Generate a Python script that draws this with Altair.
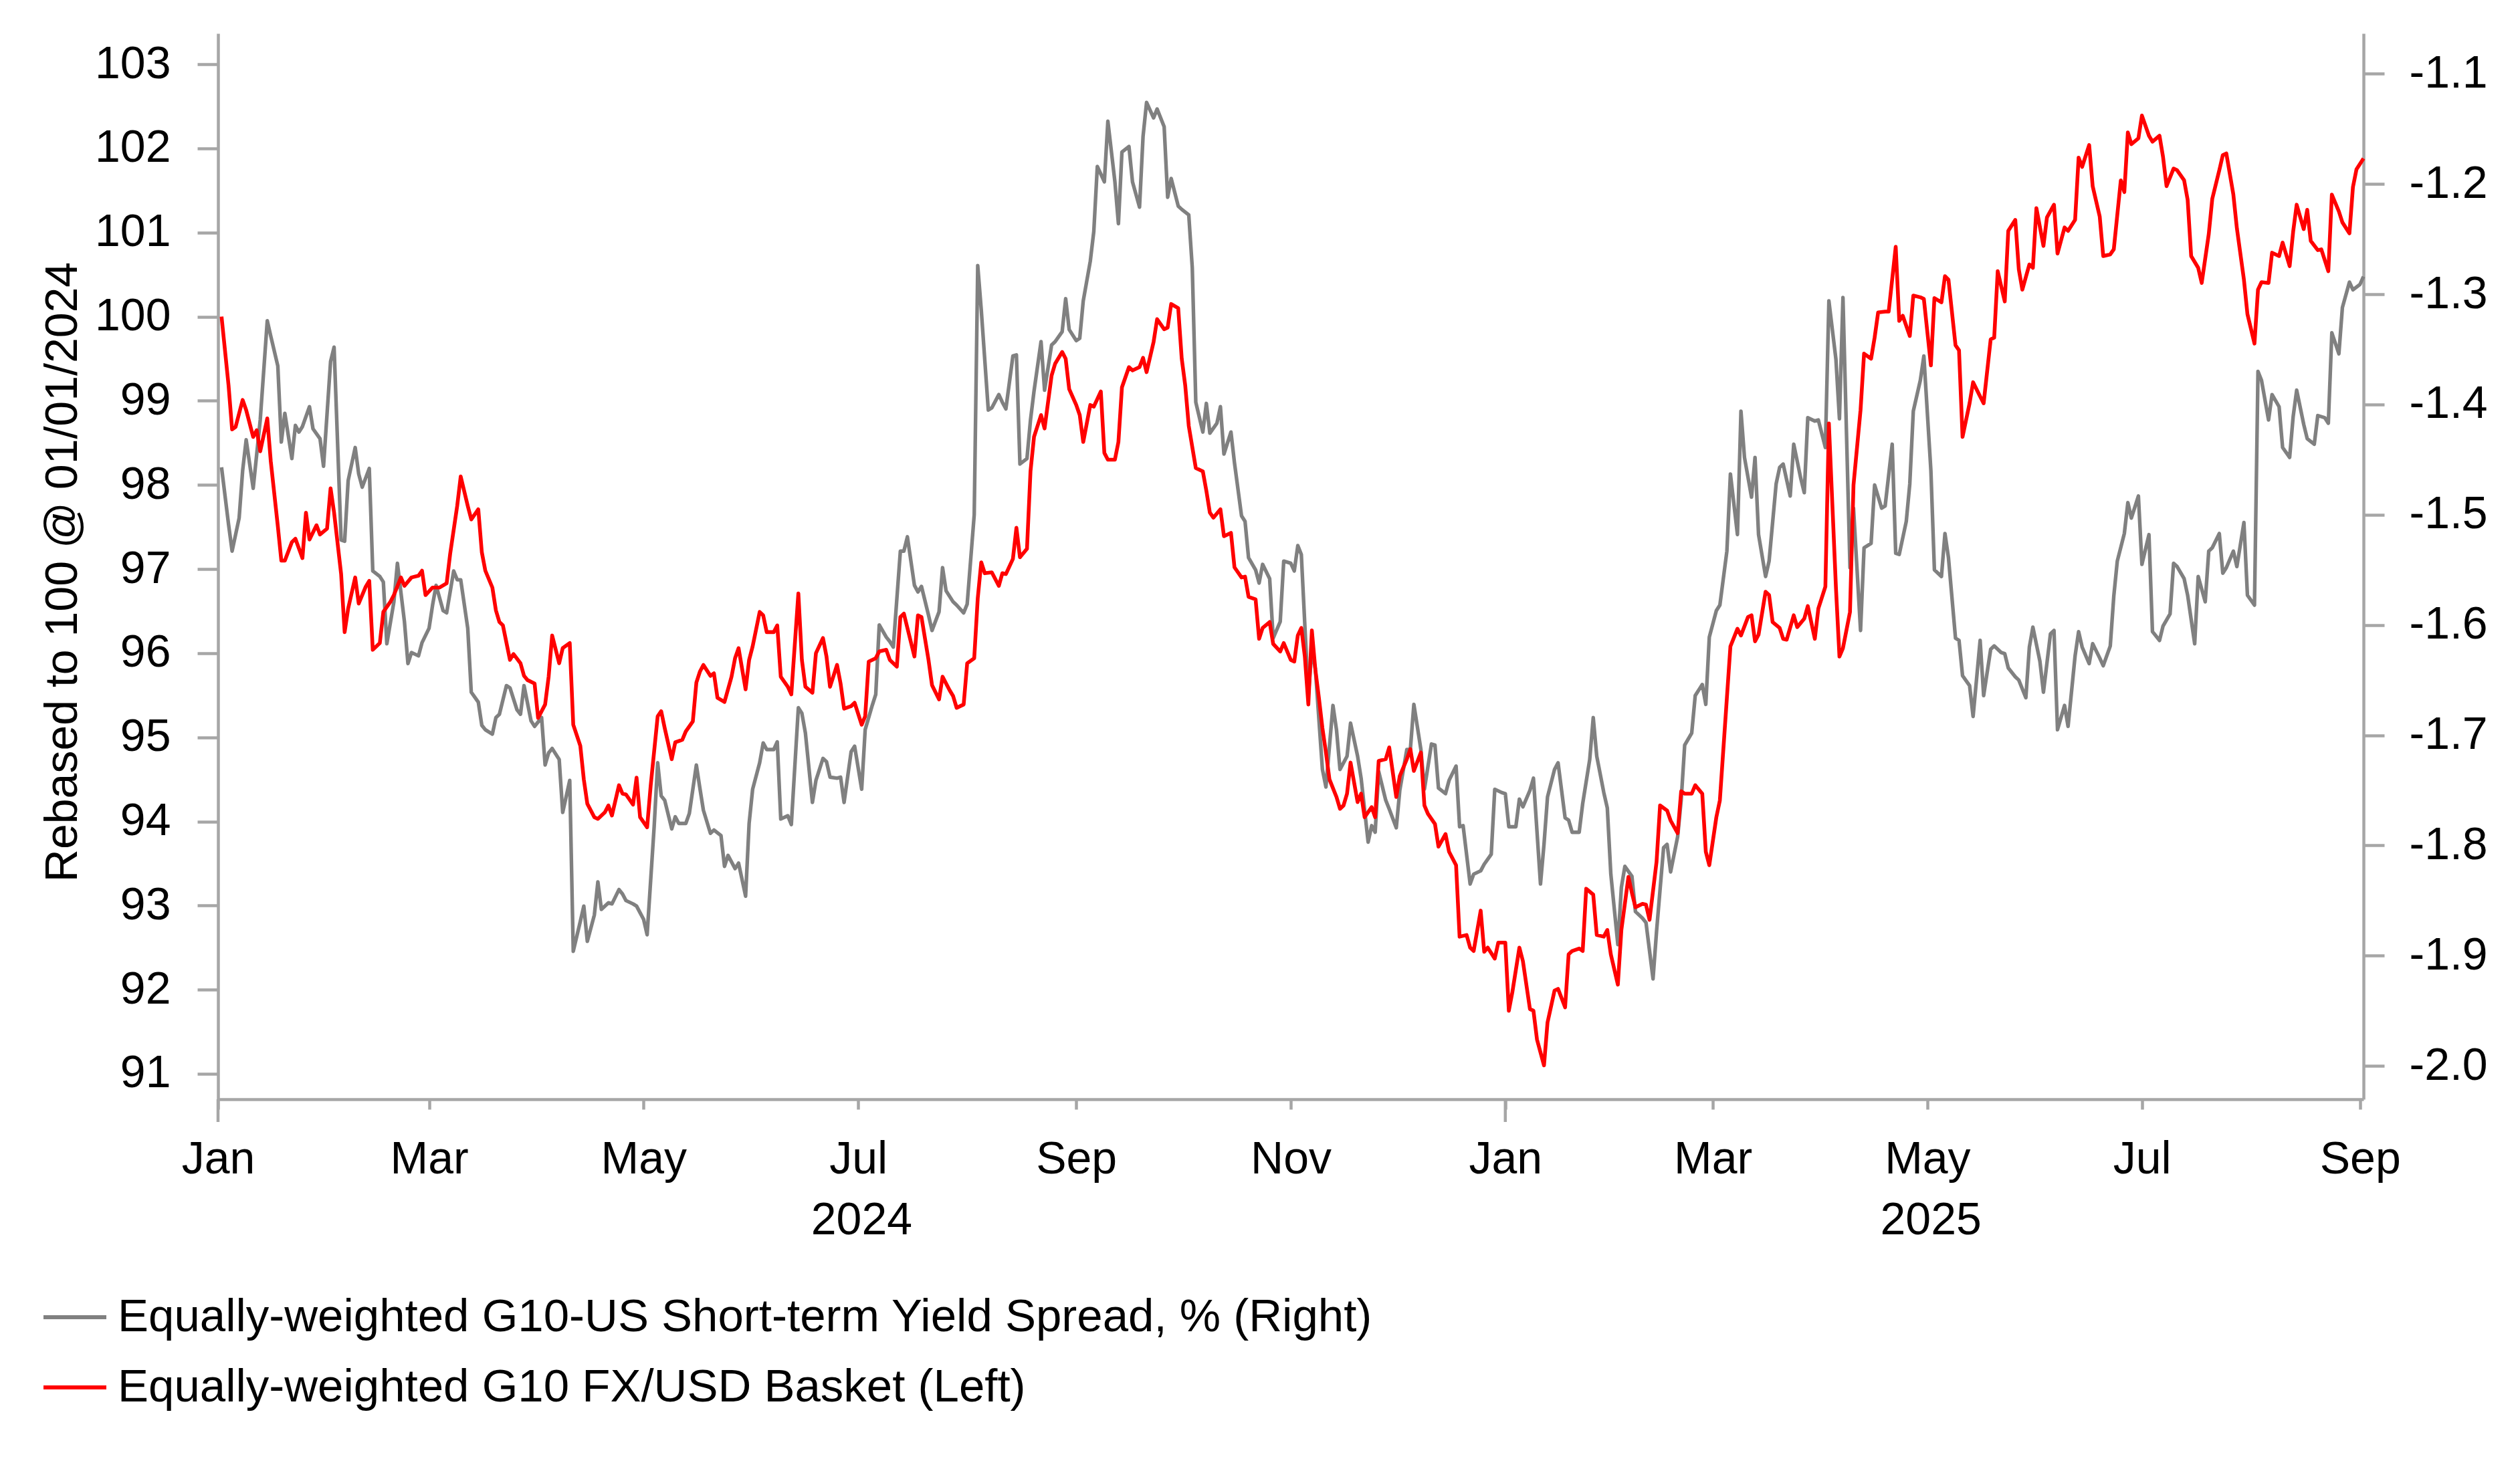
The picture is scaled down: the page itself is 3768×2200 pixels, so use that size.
import altair as alt
import pandas as pd

# ---------------- data (days since 2024-01-01) ----------------
red_day = [1, 3, 4, 5, 7, 8, 10, 11, 12, 14, 15, 17, 18, 19, 21, 22, 24, 25, 26, 28, 29, 31, 32, 33, 35, 36, 37, 39, 40, 42,
           43, 44, 46, 47, 49, 50, 52, 53, 55, 57, 58, 59, 61, 63, 65, 66, 68, 69, 71, 72, 74, 75, 76, 78, 79, 80, 81, 83, 84, 86,
           87, 88, 90, 91, 93, 94, 95, 97, 98, 100, 101, 103, 104, 105, 107, 108, 110, 111, 112, 114, 115, 116, 118, 119, 120, 122, 123, 125, 126, 127,
           129, 130, 132, 133, 135, 136, 137, 138, 140, 141, 142, 144, 146, 147, 148, 150, 151, 152, 154, 155, 156,
           158, 159, 160, 162, 163, 165, 166, 167, 169, 170, 172, 173, 174, 176, 177, 178, 180, 181, 183, 184, 185, 187, 188, 190,
           191, 193, 194, 195, 196, 198, 199, 200, 202, 203, 205, 206, 208, 209, 210, 212, 213, 215, 216, 217, 218, 220, 222, 223, 224,
           226, 227, 228, 230, 231, 232, 234, 235, 237, 238, 240, 241, 242, 244, 245, 246, 248, 249, 251, 252, 253, 255, 256, 257, 259,
           260, 262, 263, 264, 266, 267, 269, 270, 271, 273, 274, 275, 276, 278, 280, 281, 282, 283, 285, 286, 288, 289, 291, 292, 293,
           295, 296, 297, 299, 300, 302, 303, 305, 306, 307, 308,
           309, 310, 311, 312, 313, 314, 315, 316, 318, 319, 320, 321, 322, 324, 325, 326, 327, 328, 329, 330, 332, 333, 335, 336, 338,
           339, 340, 342, 343, 344, 346, 347, 349, 350, 352, 353, 355, 356, 357, 359, 360, 361, 363, 364, 366, 367, 368, 370, 371, 373,
           374, 375, 377, 378, 380, 381, 383, 384, 385, 387, 388, 389, 391, 392, 394, 395, 396, 398, 399, 401, 402, 403, 405, 406, 407,
           409, 410, 412, 413, 415, 416, 417, 419, 420, 422, 423, 424, 426, 427, 429, 430, 432, 433, 435, 436, 437, 438, 440, 441, 442,
           444, 445, 446, 448, 449, 451, 452, 454, 455, 457, 458,
           460, 461, 462, 464, 465, 467, 468, 470, 471, 472, 474, 475, 477, 478, 479, 481, 482, 484, 485, 487, 488, 490, 491, 492, 494,
           495, 496, 498, 499, 501, 502, 504, 505, 506, 508, 509, 511, 512, 513, 515, 516, 517, 519, 520, 522, 523, 525, 526, 528, 529,
           530, 532, 533, 535, 536, 538, 539, 541, 542, 543, 544, 546, 547, 549, 550, 552, 553, 554, 556, 557, 559, 560, 561, 563, 564,
           566, 567, 569, 570, 571, 573, 574, 576, 577, 579, 580, 581, 583, 584, 586, 587, 589, 590, 591, 593, 594, 595, 597, 598, 600,
           601, 603, 604, 606, 607, 608, 610]
red_val = [100.0, 99.18, 98.66, 98.69, 99.01, 98.89, 98.57, 98.65, 98.40, 98.79, 98.28, 97.51, 97.10, 97.10, 97.32, 97.36, 97.13, 97.67, 97.35, 97.52,
           97.41, 97.48, 97.96, 97.67, 96.94, 96.25, 96.53, 96.90, 96.59, 96.79, 96.86, 96.04, 96.12, 96.49, 96.61, 96.69, 96.90, 96.80, 96.90, 96.92,
           96.98, 96.69, 96.78, 96.78, 96.83, 97.18, 97.75, 98.10, 97.75, 97.59, 97.71, 97.20, 96.98, 96.78, 96.51, 96.37, 96.33, 95.92, 95.99, 95.88,
           95.73, 95.68, 95.64, 95.23, 95.39, 95.72, 96.21, 95.88, 96.06, 96.12, 95.15, 94.90, 94.50, 94.21, 94.05, 94.03, 94.11, 94.19, 94.07, 94.43,
           94.33, 94.32, 94.20, 94.52, 94.05, 93.93, 94.42, 95.25, 95.31, 95.11, 94.74, 94.94, 94.97, 95.07, 95.19, 95.65, 95.78, 95.86, 95.73, 95.76,
           95.47, 95.42, 95.72, 95.94, 96.06, 95.57, 95.92, 96.08, 96.49, 96.45, 96.25,
           96.25, 96.33, 95.72, 95.60, 95.51, 96.71, 95.92, 95.60, 95.53, 96.00, 96.18, 95.96, 95.60, 95.86, 95.64, 95.34, 95.37, 95.41, 95.15, 95.25,
           95.90, 95.94, 96.02, 96.04, 95.92, 95.84, 96.43, 96.47, 96.30, 95.96, 96.45, 96.43, 95.92, 95.62, 95.45, 95.72, 95.56, 95.49, 95.35, 95.39,
           95.88, 95.94, 96.65, 97.08, 96.95, 96.96, 96.80, 96.95, 96.94, 97.12, 97.49, 97.14, 97.24, 98.16, 98.57, 98.83, 98.67, 99.30, 99.44, 99.58,
           99.50, 99.14, 98.95, 98.83, 98.51, 98.95, 98.93, 99.11, 98.38, 98.30, 98.30, 98.51, 99.16, 99.40, 99.36, 99.40, 99.51, 99.34, 99.70, 99.97,
           99.85, 99.87, 100.15, 100.10, 99.50, 99.18, 98.70, 98.20, 98.16, 97.93, 97.67, 97.61, 97.71, 97.39, 97.43, 97.02, 96.90, 96.91, 96.67, 96.64,
           96.17, 96.30, 96.37, 96.11, 96.02, 96.12, 95.92, 95.90, 96.21, 96.30,
           95.96, 95.39, 96.27, 95.80, 95.47, 95.11, 94.82, 94.50, 94.29, 94.15, 94.19, 94.33, 94.70, 94.23, 94.33, 94.05, 94.11, 94.17, 94.05, 94.72,
           94.74, 94.88, 94.29, 94.54, 94.74, 94.86, 94.60, 94.82, 94.19, 94.09, 93.97, 93.70, 93.85, 93.64, 93.48, 92.63, 92.65, 92.50, 92.46, 92.94,
           92.45, 92.50, 92.37, 92.56, 92.56, 91.75, 91.97, 92.50, 92.34, 91.77, 91.75, 91.41, 91.10, 91.61, 91.99, 92.01, 91.79, 92.42, 92.46, 92.49,
           92.46, 93.20, 93.13, 92.65, 92.63, 92.71, 92.42, 92.06, 92.71, 93.34, 93.15, 92.98, 93.02, 93.01, 92.83, 93.52, 94.19, 94.13, 94.01, 93.86,
           94.36, 94.33, 94.33, 94.43, 94.33, 93.64, 93.48, 94.05, 94.25, 95.47, 96.08, 96.29, 96.21, 96.43, 96.45, 96.14, 96.22, 96.73, 96.69, 96.37,
           96.30, 96.17, 96.16, 96.45, 96.31, 96.41, 96.56, 96.17, 96.53, 96.79, 98.73,
           96.78, 95.96, 96.06, 96.49, 98.00, 98.89, 99.56, 99.50, 99.75, 100.05, 100.06, 100.06, 100.83, 99.95, 100.01, 99.77, 100.25, 100.23, 100.21, 99.42,
           100.22, 100.17, 100.48, 100.44, 99.66, 99.60, 98.57, 98.97, 99.22, 99.05, 98.97, 99.73, 99.75, 100.54, 100.18, 101.02, 101.15, 100.56, 100.32, 100.62,
           100.58, 101.29, 100.84, 101.18, 101.33, 100.75, 101.06, 101.02, 101.15, 101.89, 101.78, 102.04, 101.55, 101.19, 100.72, 100.74, 100.80, 101.62, 101.48, 102.19,
           102.05, 102.12, 102.39, 102.15, 102.08, 102.15, 101.90, 101.55, 101.76, 101.74, 101.62, 101.39, 100.72, 100.58, 100.40, 100.98, 101.40, 101.74, 101.92, 101.94,
           101.45, 101.05, 100.44, 100.03, 99.68, 100.32, 100.41, 100.40, 100.76, 100.72, 100.88, 100.60, 101.01, 101.33, 101.04, 101.27, 100.90, 100.79, 100.80, 100.54,
           101.45, 101.25, 101.12, 100.99, 101.54, 101.75, 101.88]

gray_day = [1, 3, 4, 6, 7, 8, 10, 11, 12, 14, 15, 17, 18, 19, 21, 22, 23, 24, 26, 27, 29, 30, 32, 33, 35, 36, 37, 39, 40, 41,
            43, 44, 46, 47, 48, 50, 51, 53, 54, 55, 57, 58, 60, 61, 62, 64, 65, 67, 68, 69, 71, 72, 74, 75, 76, 78, 79, 80, 82, 83,
            85, 86, 87, 89, 90, 91, 92, 93, 94, 95, 97, 98, 100, 101, 103, 104, 105, 107, 108, 109, 111, 112, 114, 115, 116, 118, 119, 121, 122, 124,
            125, 126, 127, 129, 130, 131, 133, 134, 136, 137, 138, 140, 141, 143, 144, 145, 147, 148, 150, 151, 152, 154, 155, 156,
            158, 159, 160, 162, 163, 165, 166, 167, 169, 170, 172, 173, 174, 176, 177, 178, 180, 181, 183, 184, 186, 187, 188, 190, 191,
            192, 194, 195, 196, 198, 199, 200, 202, 203, 205, 206, 207, 209, 210, 212, 213, 215, 216, 217, 219, 220, 222, 223, 224, 226,
            227, 228, 230, 231, 232, 234, 235, 237, 238, 240, 241, 242, 244, 245, 246, 248, 249, 250, 252, 253, 255, 256, 257, 259, 260,
            262, 263, 264, 266, 267, 269, 270, 271, 273, 274, 276, 277, 278, 280, 281, 282, 284, 285, 286, 288, 289, 291, 292, 293, 295,
            296, 297, 299, 300, 302, 303, 305, 306, 307, 308,
            310, 311, 312, 314, 315, 317, 318, 319, 321, 322, 324, 325, 327, 328, 329, 330, 332, 333, 335, 336, 338, 339, 340, 342, 343,
            345, 346, 347, 349, 350, 352, 353, 354, 356, 357, 359, 360, 362, 363, 365, 366, 367, 369, 370, 371, 373, 374, 376, 377, 378,
            380, 381, 383, 384, 385, 387, 388, 390, 391, 392, 394, 395, 396, 398, 399, 400, 402, 403, 405, 406, 408, 409, 411, 412, 413,
            415, 416, 417, 419, 420, 422, 423, 424, 426, 427, 429, 430, 432, 433, 434, 436, 437, 438, 440, 441, 443, 444, 445, 447, 448,
            450, 451, 452, 454, 455, 457, 458,
            460, 461, 462, 464, 465, 467, 468, 470, 471, 473, 474, 476, 477, 478, 480, 481, 482, 484, 485, 487, 488, 490, 491, 492, 494,
            495, 496, 498, 499, 501, 502, 504, 505, 507, 508, 509, 511, 512, 514, 515, 516, 518, 519, 521, 522, 523, 525, 526, 528, 529,
            530, 532, 533, 535, 536, 538, 539, 540, 542, 543, 544, 546, 547, 549, 550, 552, 553, 555, 556, 557, 559, 560, 562, 563, 565,
            566, 567, 569, 570, 571, 573, 574, 576, 577, 579, 580, 581, 583, 584, 586, 587, 589, 590, 591, 593, 594, 596, 597, 599, 600,
            601, 603, 604, 606, 607, 609, 610]
gray_val = [-1.457, -1.509, -1.533, -1.503, -1.460, -1.432, -1.476, -1.445, -1.414, -1.324, -1.338, -1.365, -1.434, -1.408, -1.449, -1.419, -1.425, -1.420, -1.402, -1.422,
            -1.431, -1.456, -1.361, -1.348, -1.523, -1.524, -1.469, -1.439, -1.463, -1.475, -1.458, -1.551, -1.556, -1.561, -1.617, -1.579, -1.544, -1.597, -1.635, -1.625,
            -1.628, -1.616, -1.603, -1.582, -1.564, -1.587, -1.589, -1.551, -1.559, -1.559, -1.603, -1.661, -1.670, -1.691, -1.695, -1.699, -1.684, -1.681, -1.655, -1.657,
            -1.677, -1.681, -1.655, -1.687, -1.692, -1.688, -1.684, -1.727, -1.716, -1.712, -1.722, -1.770, -1.741, -1.896, -1.869, -1.855, -1.887, -1.863, -1.833, -1.858,
            -1.852, -1.853, -1.840, -1.844, -1.850, -1.853, -1.855, -1.867, -1.881, -1.783, -1.725, -1.755, -1.759, -1.785, -1.774, -1.780, -1.780, -1.771, -1.727, -1.748,
            -1.768, -1.789, -1.786, -1.791, -1.819, -1.809, -1.821, -1.816, -1.846, -1.780, -1.749, -1.725, -1.707, -1.713,
            -1.713, -1.706, -1.776, -1.773, -1.781, -1.675, -1.680, -1.698, -1.761, -1.741, -1.721, -1.724, -1.738, -1.739, -1.738, -1.761, -1.715, -1.710, -1.749, -1.695,
            -1.673, -1.663, -1.600, -1.611, -1.615, -1.620, -1.533, -1.533, -1.520, -1.564, -1.570, -1.565, -1.591, -1.605, -1.588, -1.548, -1.569, -1.579, -1.582, -1.589,
            -1.581, -1.500, -1.274, -1.314, -1.405, -1.403, -1.391, -1.398, -1.404, -1.356, -1.355, -1.454, -1.449, -1.414, -1.388, -1.343, -1.387, -1.346, -1.343, -1.334,
            -1.304, -1.332, -1.342, -1.340, -1.306, -1.270, -1.243, -1.184, -1.198, -1.143, -1.198, -1.236, -1.171, -1.166, -1.198, -1.221, -1.157, -1.126, -1.140, -1.132,
            -1.148, -1.212, -1.195, -1.220, -1.223, -1.228, -1.276, -1.398, -1.425, -1.399, -1.426, -1.417, -1.402, -1.445, -1.425, -1.453, -1.501, -1.506, -1.539, -1.550,
            -1.562, -1.545, -1.558, -1.612, -1.597, -1.542, -1.544, -1.551, -1.528, -1.536,
            -1.664, -1.622, -1.640, -1.731, -1.747, -1.673, -1.695, -1.731, -1.719, -1.689, -1.719, -1.739, -1.797, -1.782, -1.788, -1.733, -1.759, -1.767, -1.784, -1.750,
            -1.713, -1.713, -1.672, -1.713, -1.749, -1.708, -1.709, -1.748, -1.753, -1.741, -1.728, -1.783, -1.782, -1.835, -1.826, -1.823, -1.817, -1.808, -1.749, -1.752,
            -1.753, -1.783, -1.783, -1.758, -1.765, -1.750, -1.739, -1.835, -1.799, -1.756, -1.731, -1.725, -1.775, -1.777, -1.788, -1.788, -1.762, -1.722, -1.684, -1.719,
            -1.752, -1.766, -1.826, -1.890, -1.838, -1.819, -1.828, -1.860, -1.866, -1.870, -1.921, -1.878, -1.802, -1.799, -1.824, -1.792, -1.759, -1.709, -1.698, -1.664,
            -1.654, -1.672, -1.611, -1.587, -1.582, -1.533, -1.463, -1.518, -1.406, -1.448, -1.484, -1.448, -1.518, -1.556, -1.542, -1.472, -1.457, -1.454, -1.483, -1.436,
            -1.467, -1.480, -1.412, -1.415, -1.414, -1.439, -1.306,
            -1.359, -1.413, -1.303, -1.548, -1.494, -1.605, -1.530, -1.526, -1.473, -1.494, -1.492, -1.436, -1.535, -1.536, -1.506, -1.472, -1.406, -1.378, -1.356, -1.460,
            -1.550, -1.556, -1.517, -1.539, -1.612, -1.614, -1.646, -1.655, -1.683, -1.614, -1.664, -1.622, -1.619, -1.625, -1.626, -1.639, -1.647, -1.650, -1.666, -1.620,
            -1.602, -1.633, -1.661, -1.608, -1.605, -1.695, -1.673, -1.692, -1.628, -1.606, -1.620, -1.635, -1.617, -1.630, -1.637, -1.619, -1.574, -1.542, -1.517, -1.489,
            -1.503, -1.483, -1.545, -1.518, -1.606, -1.614, -1.601, -1.590, -1.544, -1.547, -1.558, -1.573, -1.617, -1.556, -1.579, -1.533, -1.530, -1.517, -1.553, -1.548,
            -1.533, -1.547, -1.507, -1.573, -1.582, -1.370, -1.378, -1.414, -1.391, -1.402, -1.439, -1.448, -1.411, -1.387, -1.418, -1.431, -1.436, -1.410, -1.412, -1.417,
            -1.335, -1.354, -1.312, -1.289, -1.296, -1.291, -1.284]

month_ticks = ["2024-01-01", "2024-03-01", "2024-05-01", "2024-07-01", "2024-09-01", "2024-11-01",
               "2025-01-01", "2025-03-01", "2025-05-01", "2025-07-01", "2025-09-01"]
year_starts = ["2024-01-01", "2025-01-01"]
year_labels = ["2024", "2025"]
year_label_dates = ["2024-07-02", "2025-05-02"]
left_ticks = [91, 92, 93, 94, 95, 96, 97, 98, 99, 100, 101, 102, 103]
right_ticks = [-2.0, -1.9, -1.8, -1.7, -1.6, -1.5, -1.4, -1.3, -1.2, -1.1]

GRAY_NAME = "Equally-weighted G10-US Short-term Yield Spread, % (Right)"
RED_NAME = "Equally-weighted G10 FX/USD Basket (Left)"
Y_TITLE = "Rebased to 100 @ 01/01/2024"

# ---------------- build tables ----------------
START = pd.Timestamp("2024-01-01")


def to_dates(days):
    return [(START + pd.Timedelta(days=int(d))).strftime("%Y-%m-%d") for d in days]


def ms(s):
    return int(pd.Timestamp(s, tz="UTC").timestamp() * 1000)


red_df = pd.DataFrame({"date": to_dates(red_day), "value": red_val, "series": RED_NAME})
gray_df = pd.DataFrame({"date": to_dates(gray_day), "value": gray_val, "series": GRAY_NAME})
year_df = pd.DataFrame({"date": year_label_dates, "label": year_labels})
jan_df = pd.DataFrame({"date": year_starts})

# ---------------- style ----------------
FONT = "Liberation Sans"
FS = 68
AX = "#A6A6A6"
W, H = 3208, 1594

x_scale = alt.Scale(type="utc", domain=[ms("2024-01-01"), ms("2025-09-02")])
x_axis = alt.Axis(values=[ms(d) for d in month_ticks], labelExpr="utcFormat(datum.value, '%b')",
                  title=None, grid=False, domainColor=AX, domainWidth=4.5, tickColor=AX, tickWidth=4.5,
                  tickSize=15, labelPadding=41, labelFont=FONT, labelFontSize=FS, labelColor="black",
                  labelFlush=False, labelOverlap=False)
x_enc = alt.X("date:T", scale=x_scale, axis=x_axis)

left_scale = alt.Scale(domain=[90.698, 103.366], nice=False, zero=False)
right_scale = alt.Scale(domain=[-2.0302, -1.0634], nice=False, zero=False)

left_axis = alt.Axis(orient="left", values=left_ticks, format="d", grid=False,
                     domainColor=AX, domainWidth=4.5, tickColor=AX, tickWidth=4.5, tickSize=31,
                     labelPadding=40, labelFont=FONT, labelFontSize=FS, labelColor="black",
                     title=Y_TITLE, titleFont=FONT, titleFontSize=FS, titleFontWeight="normal",
                     titleColor="black", titleX=-212, titleY=805, titleAlign="center",
                     titleBaseline="alphabetic")
right_axis = alt.Axis(orient="right", values=right_ticks,
                      labelExpr="replace(format(datum.value, '.1f'), '\u2212', '-')", grid=False,
                      domainColor=AX, domainWidth=4.5, tickColor=AX, tickWidth=4.5, tickSize=31,
                      labelPadding=37, labelFont=FONT, labelFontSize=FS, labelColor="black", title=None)

color_scale = alt.Scale(domain=[GRAY_NAME, RED_NAME], range=["#808080", "#FF0000"])
legend = alt.Legend(title=None, orient="none", legendX=-264, legendY=1870, direction="vertical",
                    symbolType="stroke", symbolSize=8836, symbolStrokeWidth=6, labelOffset=14,
                    labelFont=FONT, labelFontSize=69, labelColor="black", labelLimit=0,
                    rowPadding=20, padding=0, offset=0)

gray_line = alt.Chart(gray_df).mark_line(strokeWidth=5.4, strokeJoin="round").encode(
    x=x_enc,
    y=alt.Y("value:Q", scale=right_scale, axis=right_axis),
    color=alt.Color("series:N", scale=color_scale, legend=legend),
)

red_line = alt.Chart(red_df).mark_line(strokeWidth=5.6, strokeJoin="round").encode(
    x=x_enc,
    y=alt.Y("value:Q", scale=left_scale, axis=left_axis),
    color=alt.Color("series:N", scale=color_scale, legend=legend),
)

jan_ticks = alt.Chart(jan_df).mark_rule(color=AX, strokeWidth=4.5).encode(
    x=x_enc, y=alt.value(H), y2=alt.value(H + 34)
)

year_text = alt.Chart(year_df).mark_text(font=FONT, fontSize=FS, color="black", align="center",
                                          baseline="alphabetic").encode(
    x=x_enc, y=alt.value(1796), text="label:N"
)

chart = alt.layer(gray_line, red_line, jan_ticks, year_text).resolve_scale(
    y="independent"
).properties(
    width=W, height=H,
    padding={"left": 318, "top": 42, "right": 200, "bottom": 520},
    autosize=alt.AutoSizeParams(type="none"),
    background="white",
).configure_view(stroke=None)

chart.save("out.html", embed_options={"renderer": "svg", "actions": False})
